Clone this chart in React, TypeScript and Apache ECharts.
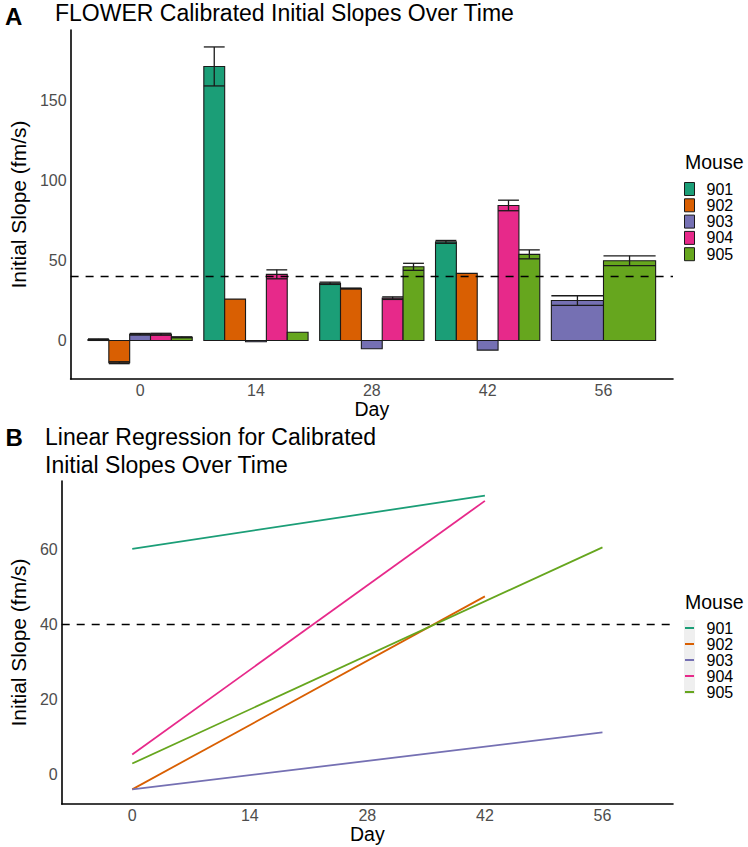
import React, { useEffect, useRef } from 'react';
import * as echarts from 'echarts';

const days = [0, 14, 28, 42, 56];
const mice = ['901', '902', '903', '904', '905'];
const colors = ['#1B9E77', '#D95F02', '#7570B3', '#E7298A', '#66A61E'];

// Panel A: mean calibrated initial slope (fm/s) per day, null = not measured
const mean901 = [0.6, 171.5, 35.8, 61.7, null];
const mean902 = [-13.9, 25.9, 32.5, 42.0, null];
const mean903 = [3.9, -0.8, -5.2, -6.0, 25.0];
const mean904 = [3.9, 41.4, 26.5, 84.5, null];
const mean905 = [2.0, 5.2, 46.1, 53.9, 49.9];
// Panel A: standard errors, null = no error bar
const se901 = [0.4, 12.2, 0.7, 0.9, null];
const se902 = [0.6, null, 0.3, null, null];
const se903 = [0.5, null, null, null, 3.0];
const se904 = [0.6, 2.8, 0.8, 3.3, null];
const se905 = [0.3, null, 2.2, 2.8, 3.1];

// Panel B: regression line endpoints [day, fitted slope]
const reg901 = [[0, 60.2], [42, 74.4]];
const reg902 = [[0, -4.0], [42, 47.5]];
const reg903 = [[0, -4.0], [56, 11.2]];
const reg904 = [[0, 5.3], [42, 73.0]];
const reg905 = [[0, 2.9], [56, 60.6]];

const threshold = 40;
const yTicksA = [0, 50, 100, 150];
const yTicksB = [0, 20, 40, 60];
const xMin = -8.4;
const xMax = 64.4;

const meanSets = [mean901, mean902, mean903, mean904, mean905];
const seSets = [se901, se902, se903, se904, se905];
const regSets = [reg901, reg902, reg903, reg904, reg905];

const FONT = "'Liberation Sans', Arial, Helvetica, sans-serif";
const groupSpan = 14 * 0.9;

function presentIn(di: number) {
  const out: number[] = [];
  meanSets.forEach((s, mi) => {
    if (s[di] != null) out.push(mi);
  });
  return out;
}

function barData(mi: number) {
  const rows: any[] = [];
  days.forEach((d, di) => {
    const v = meanSets[mi][di];
    if (v == null) return;
    const pres = presentIn(di);
    rows.push([d, v, seSets[mi][di] == null ? '-' : seSets[mi][di], pres.indexOf(mi), pres.length]);
  });
  return rows;
}

function errData() {
  const rows: any[] = [];
  days.forEach((d, di) => {
    const pres = presentIn(di);
    pres.forEach((mi, slot) => {
      const se = seSets[mi][di];
      if (se == null) return;
      rows.push([d, meanSets[mi][di], se, slot, pres.length]);
    });
  });
  return rows;
}

function renderBar(params: any, api: any) {
  const day = api.value(0);
  const v = api.value(1);
  const slot = api.value(3);
  const n = api.value(4);
  const gw = api.size([groupSpan, 0])[0];
  const bw = gw / n;
  const base = api.coord([day, 0]);
  const top = api.coord([day, v]);
  const x = base[0] - gw / 2 + slot * bw;
  return {
    type: 'rect',
    shape: { x, y: Math.min(base[1], top[1]), width: bw, height: Math.abs(base[1] - top[1]) },
    style: { fill: api.visual('color'), stroke: '#1a1a1a', lineWidth: 1.1 },
  };
}

function renderErr(params: any, api: any) {
  const day = api.value(0);
  const m = api.value(1);
  const se = api.value(2);
  const slot = api.value(3);
  const n = api.value(4);
  const gw = api.size([groupSpan, 0])[0];
  const bw = gw / n;
  const base = api.coord([day, 0]);
  const lo = api.coord([day, m - se]);
  const hi = api.coord([day, m + se]);
  const x0 = base[0] - gw / 2 + slot * bw;
  const xc = x0 + bw / 2;
  const st = { stroke: '#1a1a1a', lineWidth: 1.3 };
  return {
    type: 'group',
    children: [
      { type: 'line', shape: { x1: xc, y1: lo[1], x2: xc, y2: hi[1] }, style: st },
      { type: 'line', shape: { x1: x0, y1: lo[1], x2: x0 + bw, y2: lo[1] }, style: st },
      { type: 'line', shape: { x1: x0, y1: hi[1], x2: x0 + bw, y2: hi[1] }, style: st },
    ],
  };
}

const axisLineStyle = { show: true, onZero: false, lineStyle: { color: '#000', width: 1.6 } };
const tickLabel = { color: '#4d4d4d', fontSize: 16, fontFamily: FONT };

export default function App() {
  const ref = useRef<HTMLDivElement>(null);
  useEffect(() => {
    if (!ref.current) return;
    const chart = echarts.init(ref.current, null, { renderer: 'svg' });
    const series: any[] = [];
    mice.forEach((m, mi) => {
      series.push({
        type: 'custom',
        name: m,
        xAxisIndex: 0,
        yAxisIndex: 0,
        itemStyle: { color: colors[mi] },
        encode: { x: 0, y: 1 },
        data: barData(mi),
        renderItem: renderBar,
        z: 2,
      });
    });
    series.push({
      type: 'custom',
      name: 'se',
      xAxisIndex: 0,
      yAxisIndex: 0,
      encode: { x: 0, y: 1 },
      data: errData(),
      renderItem: renderErr,
      z: 3,
    });
    series.push({
      type: 'line',
      name: 'thrA',
      xAxisIndex: 0,
      yAxisIndex: 0,
      data: [[xMin, threshold], [xMax, threshold]],
      showSymbol: false,
      symbol: 'none',
      lineStyle: { color: '#000', width: 1.6, type: [8, 7] },
      z: 4,
    });
    mice.forEach((m, mi) => {
      series.push({
        type: 'line',
        name: m + ' ',
        xAxisIndex: 1,
        yAxisIndex: 1,
        data: regSets[mi],
        showSymbol: false,
        symbol: 'none',
        itemStyle: { color: colors[mi] },
        lineStyle: { color: colors[mi], width: 1.8 },
        z: 2,
      });
    });
    series.push({
      type: 'line',
      name: 'thrB',
      xAxisIndex: 1,
      yAxisIndex: 1,
      data: [[xMin, threshold], [xMax, threshold]],
      showSymbol: false,
      symbol: 'none',
      lineStyle: { color: '#000', width: 1.6, type: [8, 7] },
      z: 4,
    });

    const xAxisCommon = (gi: number) => ({
      type: 'value',
      gridIndex: gi,
      min: xMin,
      max: xMax,
      axisLine: axisLineStyle,
      axisTick: { show: false },
      splitLine: { show: false },
      axisLabel: { ...tickLabel, margin: 3, customValues: days },
      name: 'Day',
      nameLocation: 'middle',
      nameGap: 17,
      nameTextStyle: { color: '#000', fontSize: 19.5, fontFamily: FONT },
    });

    const option: any = {
      animation: false,
      textStyle: { fontFamily: FONT },
      grid: [
        { left: 54, top: 30, width: 619, height: 349 },
        { left: 45, top: 481, width: 628, height: 323 },
      ],
      xAxis: [xAxisCommon(0), xAxisCommon(1)],
      yAxis: [
        {
          type: 'value',
          gridIndex: 0,
          min: -24.1,
          max: 194.3,
          axisLine: axisLineStyle,
          axisTick: { show: false },
          splitLine: { show: false },
          axisLabel: { ...tickLabel, margin: 4, customValues: yTicksA },
          name: 'Initial Slope (fm/s)',
          nameLocation: 'middle',
          nameGap: 32,
          nameTextStyle: { color: '#000', fontSize: 21, fontFamily: FONT },
        },
        {
          type: 'value',
          gridIndex: 1,
          min: -7.9,
          max: 78.3,
          axisLine: axisLineStyle,
          axisTick: { show: false },
          splitLine: { show: false },
          axisLabel: { ...tickLabel, margin: 4, customValues: yTicksB },
          name: 'Initial Slope (fm/s)',
          nameLocation: 'middle',
          nameGap: 23,
          nameTextStyle: { color: '#000', fontSize: 21, fontFamily: FONT },
        },
      ],
      legend: [
        {
          left: 684,
          top: 181,
          orient: 'vertical',
          padding: 0,
          itemWidth: 10,
          itemHeight: 13,
          itemGap: 0.3,
          selectedMode: false,
          textStyle: { color: '#000', fontSize: 16, fontFamily: FONT, lineHeight: 14, padding: [0, 0, 0, 7] },
          data: mice.map((m, i) => ({
            name: m,
            icon: 'rect',
            itemStyle: { color: colors[i], borderColor: '#1a1a1a', borderWidth: 1 },
          })),
        },
        {
          left: 685,
          top: 620,
          orient: 'vertical',
          padding: 0,
          itemWidth: 9,
          itemHeight: 2,
          itemGap: 0,
          selectedMode: false,
          formatter: (name: string) => name.trim(),
          textStyle: { color: '#000', fontSize: 16, fontFamily: FONT, lineHeight: 14.7, padding: [0, 0, 0, 7.5] },
          data: mice.map((m, i) => ({
            name: m + ' ',
            icon: 'rect',
            itemStyle: { color: colors[i], borderWidth: 0 },
          })),
        },
      ],
      graphic: [
        { type: 'rect', left: 684, top: 620, shape: { width: 11, height: 74 }, style: { fill: '#efefef' }, z: -1, silent: true },
        { type: 'text', x: 5, y: 16, style: { text: 'A', fontSize: 24, fontWeight: 'bold', fontFamily: FONT, fill: '#000', textVerticalAlign: 'middle' } },
        { type: 'text', x: 55, y: 12.5, style: { text: 'FLOWER Calibrated Initial Slopes Over Time', fontSize: 23, fontFamily: FONT, fill: '#000', textVerticalAlign: 'middle' } },
        { type: 'text', x: 5.5, y: 437, style: { text: 'B', fontSize: 24, fontWeight: 'bold', fontFamily: FONT, fill: '#000', textVerticalAlign: 'middle' } },
        { type: 'text', x: 45, y: 437, style: { text: 'Linear Regression for Calibrated', fontSize: 23, fontFamily: FONT, fill: '#000', textVerticalAlign: 'middle' } },
        { type: 'text', x: 45, y: 465, style: { text: 'Initial Slopes Over Time', fontSize: 23, fontFamily: FONT, fill: '#000', textVerticalAlign: 'middle' } },
        { type: 'text', x: 685, y: 162, style: { text: 'Mouse', fontSize: 19.5, fontFamily: FONT, fill: '#000', textVerticalAlign: 'middle' } },
        { type: 'text', x: 685, y: 602, style: { text: 'Mouse', fontSize: 19.5, fontFamily: FONT, fill: '#000', textVerticalAlign: 'middle' } },
      ],
      series,
    };
    chart.setOption(option);
    return () => chart.dispose();
  }, []);
  return <div ref={ref} style={{ position: 'absolute', left: 0, top: 0, width: 748, height: 847, background: '#fff' }} />;
}
